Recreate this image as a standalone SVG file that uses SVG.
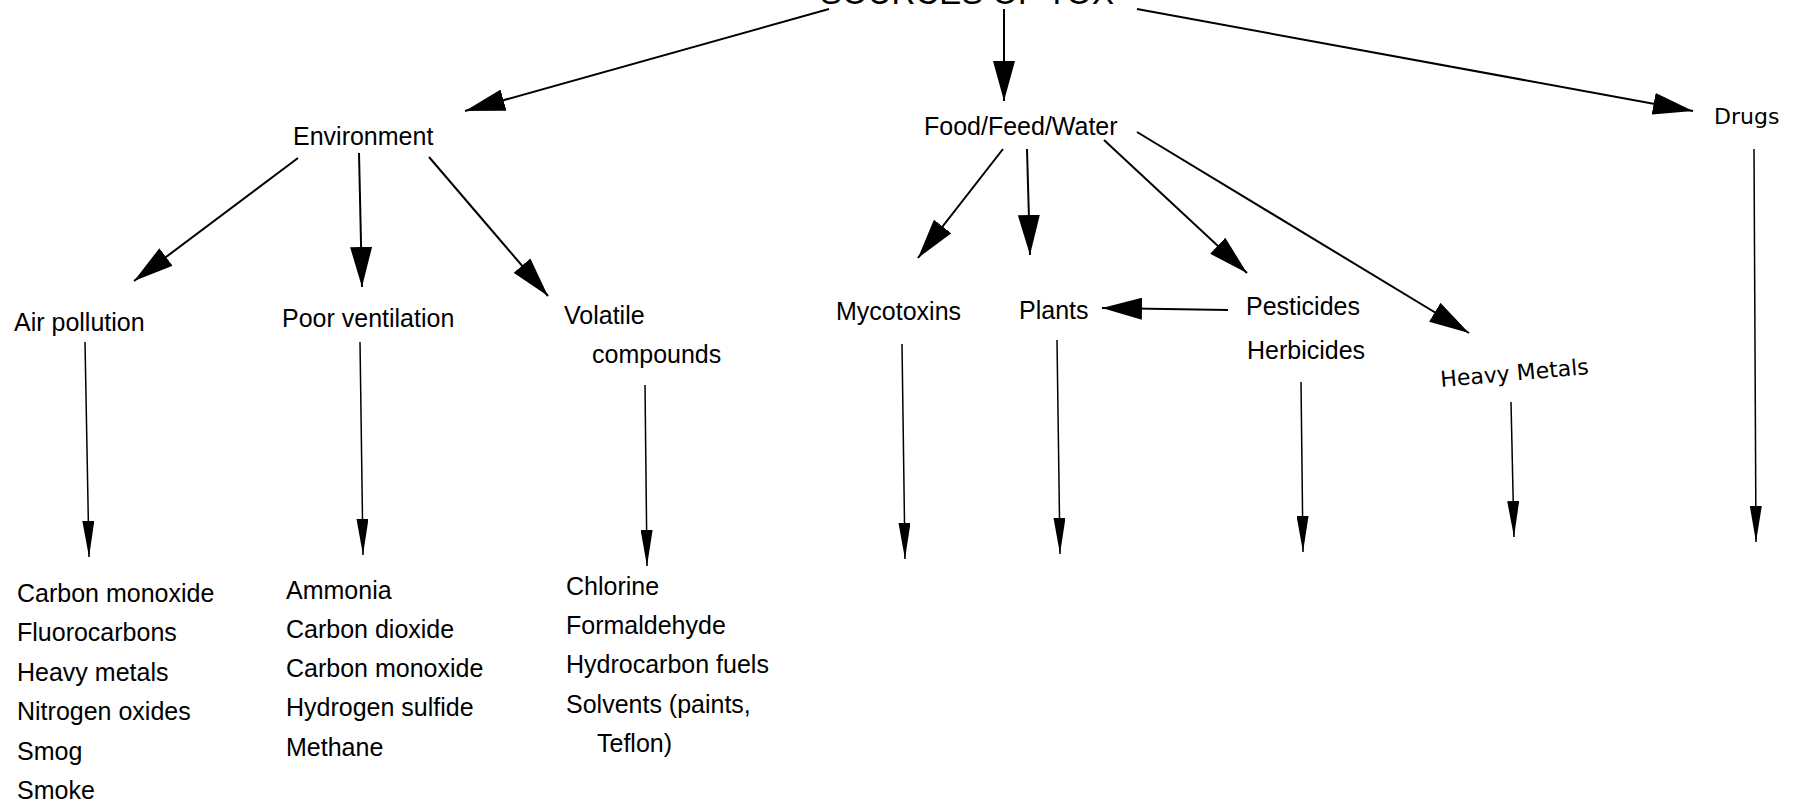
<svg xmlns="http://www.w3.org/2000/svg" width="1800" height="806" viewBox="0 0 1800 806">
<style>
  .t { font-family: "Liberation Sans", Arial, sans-serif; font-size: 25px; fill: #000; }
  .h { font-family: "DejaVu Sans", "Liberation Sans", sans-serif; font-size: 22px; fill: #000; }
  .title { font-family: "Liberation Sans", Arial, sans-serif; font-size: 33px; fill: #000; }
  .c1 { stroke: #000; stroke-width: 2; fill: none; marker-end: url(#big); }
  .c2 { stroke: #000; stroke-width: 1.5; fill: none; marker-end: url(#thin); }
</style>
<defs>
  <marker id="big" markerUnits="userSpaceOnUse" markerWidth="40" markerHeight="22" refX="40" refY="11" orient="auto">
    <path d="M0,0 L40,11 L0,22 Z" fill="#000"/>
  </marker>
  <marker id="thin" markerUnits="userSpaceOnUse" markerWidth="36" markerHeight="12" refX="36" refY="6" orient="auto">
    <path d="M0,0 L36,6 L0,12 Z" fill="#000"/>
  </marker>
</defs>
<rect width="1800" height="806" fill="#fff"/>

<g id="title"><text class="title" x="820" y="4">SOURCES OF TOX</text></g>

<g id="environment"><text class="t" x="293" y="145">Environment</text></g>
<g id="food"><text class="t" x="924" y="135">Food/Feed/Water</text></g>
<g id="drugs"><text class="h" x="1714" y="124" font-size="24">Drugs</text></g>

<g id="air-pollution"><text class="t" x="14" y="331">Air pollution</text></g>
<g id="poor-ventilation"><text class="t" x="282" y="327">Poor ventilation</text></g>
<g id="volatile"><text class="t" x="564" y="324">Volatile</text><text class="t" x="592" y="363">compounds</text></g>
<g id="mycotoxins"><text class="t" x="836" y="320">Mycotoxins</text></g>
<g id="plants"><text class="t" x="1019" y="319">Plants</text></g>
<g id="pesticides"><text class="t" x="1246" y="315">Pesticides</text><text class="t" x="1247" y="359" font-size="23.5">Herbicides</text></g>
<g id="heavy-metals"><text class="h" x="1441" y="387" transform="rotate(-5 1441 387)">Heavy Metals</text></g>

<g id="list-air">
  <text class="t" x="17" y="602">Carbon monoxide</text>
  <text class="t" x="17" y="641">Fluorocarbons</text>
  <text class="t" x="17" y="681">Heavy metals</text>
  <text class="t" x="17" y="720">Nitrogen oxides</text>
  <text class="t" x="17" y="760">Smog</text>
  <text class="t" x="17" y="799">Smoke</text>
</g>
<g id="list-ventilation">
  <text class="t" x="286" y="599">Ammonia</text>
  <text class="t" x="286" y="638">Carbon dioxide</text>
  <text class="t" x="286" y="677">Carbon monoxide</text>
  <text class="t" x="286" y="716">Hydrogen sulfide</text>
  <text class="t" x="286" y="756">Methane</text>
</g>
<g id="list-volatile">
  <text class="t" x="566" y="595">Chlorine</text>
  <text class="t" x="566" y="634">Formaldehyde</text>
  <text class="t" x="566" y="673">Hydrocarbon fuels</text>
  <text class="t" x="566" y="713">Solvents (paints,</text>
  <text class="t" x="597" y="752">Teflon)</text>
</g>

<g id="connectors">
  <line class="c1" x1="829" y1="9" x2="465" y2="111"/>
  <line class="c1" x1="1004" y1="9" x2="1004" y2="101"/>
  <line class="c1" x1="1137" y1="9" x2="1693" y2="111"/>

  <line class="c1" x1="298" y1="158" x2="134" y2="281"/>
  <line class="c1" x1="359" y1="153" x2="362" y2="287"/>
  <line class="c1" x1="429" y1="157" x2="548" y2="296"/>

  <line class="c1" x1="1003" y1="149" x2="918" y2="258"/>
  <line class="c1" x1="1027" y1="149" x2="1030" y2="255"/>
  <line class="c1" x1="1104" y1="140" x2="1247" y2="273"/>
  <line class="c1" x1="1137" y1="132" x2="1469" y2="333"/>
  <line class="c1" x1="1228" y1="310" x2="1102" y2="308"/>

  <line class="c2" x1="85" y1="342" x2="89" y2="557"/>
  <line class="c2" x1="360" y1="342" x2="363" y2="555"/>
  <line class="c2" x1="645" y1="385" x2="647" y2="566"/>
  <line class="c2" x1="902" y1="344" x2="905" y2="559"/>
  <line class="c2" x1="1057" y1="340" x2="1060" y2="554"/>
  <line class="c2" x1="1301" y1="382" x2="1303" y2="552"/>
  <line class="c2" x1="1511" y1="402" x2="1514" y2="537"/>
  <line class="c2" x1="1754" y1="149" x2="1756" y2="542"/>
</g>
</svg>
